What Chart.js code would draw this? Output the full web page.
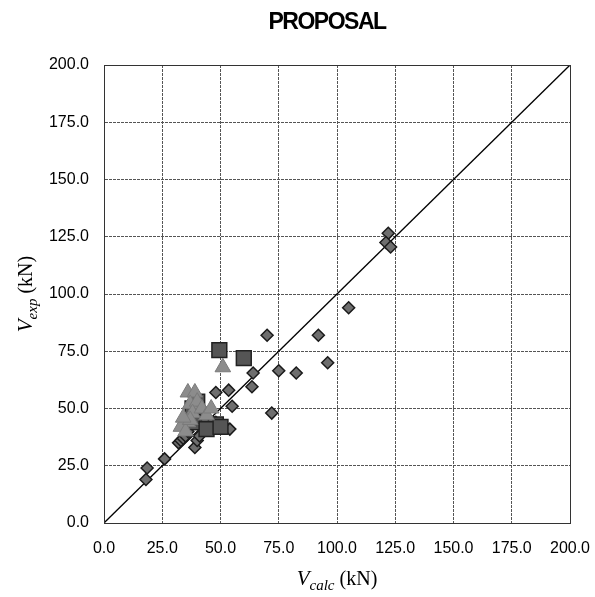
<!DOCTYPE html>
<html>
<head>
<meta charset="utf-8">
<script src="https://cdn.jsdelivr.net/npm/chart.js@4/dist/chart.umd.min.js"></script>
<style>
html,body{margin:0;padding:0;background:#fff;}
#wrap{width:595px;height:597px;}
</style>
</head>
<body>
<div id="wrap"><canvas id="c" width="595" height="597"></canvas></div>
<script>
const chartTitle = "PROPOSAL";
const tickValues = [0, 25, 50, 75, 100, 125, 150, 175, 200];

// Series 1: diamonds [Vcalc, Vexp]
const diamondsX = [18, 18.5, 26, 32, 33, 34, 35, 36, 39, 40, 41, 42, 44, 46, 48, 50, 52, 54, 48, 45, 38, 40, 42, 48, 53.5, 55, 63.5, 64, 70, 72, 75, 82.5, 92, 96, 105, 122, 121, 123];
const diamondsY = [19, 24, 28, 35, 36, 37, 38, 40, 33, 36, 38, 42, 42, 42, 42, 42, 42, 41, 44, 45, 47, 50, 48, 57, 58, 51, 59.5, 65.5, 82, 48, 66.5, 65.5, 82, 70, 94, 126.5, 122.5, 120.5];

// Series 2: triangles
const trianglesX = [51, 36, 39, 37, 40, 38, 36, 33, 35, 42, 44, 37, 46, 34];
const trianglesY = [68, 57, 57, 52, 53, 48, 44, 42, 40, 50, 47, 45, 50, 46];

// Series 3: squares
const squaresX = [49.5, 60, 38, 40, 42, 38, 45, 48, 40, 44, 50];
const squaresY = [75.5, 72, 50, 48, 46, 44, 43, 43, 53, 41, 42];

// Reference line y = x
const lineX = [0, 200];
const lineY = [0, 200];

const toPts = (xs, ys) => xs.map((x, i) => ({x: x, y: ys[i]}));

const textPlugin = {
  id: 'texts',
  afterDraw(chart) {
    const ctx = chart.ctx;
    const a = chart.chartArea;
    ctx.save();
    ctx.strokeStyle = '#333';
    ctx.lineWidth = 1;
    ctx.strokeRect(Math.round(a.left) + 0.5, Math.round(a.top) + 0.5, Math.round(a.right - a.left), Math.round(a.bottom - a.top));
    ctx.fillStyle = '#000';
    ctx.font = 'bold 23px "Liberation Sans", Arial, sans-serif';
    ctx.textAlign = 'center';
    ctx.textBaseline = 'middle';
    try { ctx.letterSpacing = '-1.5px'; } catch (e) {}
    ctx.fillText(chartTitle, 327, 23);
    try { ctx.letterSpacing = '0px'; } catch (e) {}

    function drawAxisTitle(main, sub, rest) {
      const fMain = 'italic 21px "Liberation Serif", "Times New Roman", serif';
      const fSub = 'italic 15px "Liberation Serif", "Times New Roman", serif';
      const fRest = '20px "Liberation Serif", "Times New Roman", serif';
      ctx.font = fMain; const w1 = ctx.measureText(main).width;
      ctx.font = fSub; const w2 = ctx.measureText(sub).width;
      ctx.font = fRest; const w3 = ctx.measureText(rest).width;
      const total = w1 + w2 + w3;
      let x = -total / 2;
      ctx.textAlign = 'left';
      ctx.textBaseline = 'alphabetic';
      ctx.font = fMain; ctx.fillText(main, x, 7); x += w1;
      ctx.font = fSub; ctx.fillText(sub, x, 12); x += w2;
      ctx.font = fRest; ctx.fillText(rest, x, 7);
    }
    ctx.save();
    ctx.translate(337, 578);
    drawAxisTitle('V', 'calc', ' (kN)');
    ctx.restore();
    ctx.save();
    ctx.translate(25, 294);
    ctx.rotate(-Math.PI / 2);
    drawAxisTitle('V', 'exp', ' (kN)');
    ctx.restore();
    ctx.restore();
  }
};

new Chart(document.getElementById('c'), {
  type: 'scatter',
  data: {
    datasets: [
      {
        label: 'line',
        type: 'line',
        data: toPts(lineX, lineY),
        borderColor: '#000',
        borderWidth: 1.3,
        pointRadius: 0,
        fill: false,
        order: 4
      },
      {
        label: 'diamonds',
        data: toPts(diamondsX, diamondsY),
        pointStyle: 'rectRot',
        pointRadius: 6,
        backgroundColor: '#6e6e6e',
        borderColor: '#1a1a1a',
        borderWidth: 1.5,
        order: 3
      },
      {
        label: 'squares',
        data: toPts(squaresX, squaresY),
        pointStyle: 'rect',
        pointRadius: 10.5,
        backgroundColor: '#555',
        borderColor: '#222',
        borderWidth: 1.5,
        order: 2
      },
      {
        label: 'triangles',
        data: toPts(trianglesX, trianglesY),
        pointStyle: 'triangle',
        pointRadius: 9,
        backgroundColor: '#8c8c8c',
        borderColor: '#7a7a7a',
        borderWidth: 1,
        order: 1
      }
    ]
  },
  options: {
    responsive: false,
    animation: false,
    devicePixelRatio: 1,
    layout: { padding: { top: 65, right: 25, left: 0, bottom: 0 } },
    plugins: { legend: { display: false }, tooltip: { enabled: false }, title: { display: false } },
    scales: {
      x: {
        type: 'linear',
        min: 0, max: 200,
        afterBuildTicks(scale) { scale.ticks = tickValues.map(v => ({value: v})); },
        afterFit(scale) { scale.height = 74; scale.paddingLeft = 0; scale.paddingRight = 0; },
        grid: { color: '#555', lineWidth: 1, drawTicks: false },
        border: { display: true, color: '#333', dash: [3, 1] },
        ticks: {
          padding: 16,
          color: '#000',
          font: { family: '"Liberation Sans", Arial, sans-serif', size: 16 },
          maxRotation: 0,
          callback: v => Number(v).toFixed(1)
        }
      },
      y: {
        type: 'linear',
        min: 0, max: 200,
        afterBuildTicks(scale) { scale.ticks = tickValues.map(v => ({value: v})); },
        afterFit(scale) { scale.width = 104; scale.paddingTop = 0; scale.paddingBottom = 0; },
        grid: { color: '#555', lineWidth: 1, drawTicks: false },
        border: { display: true, color: '#333', dash: [3, 1] },
        ticks: {
          padding: 15,
          color: '#000',
          font: { family: '"Liberation Sans", Arial, sans-serif', size: 16 },
          callback: v => Number(v).toFixed(1)
        }
      }
    }
  },
  plugins: [textPlugin]
});
</script>
</body>
</html>
